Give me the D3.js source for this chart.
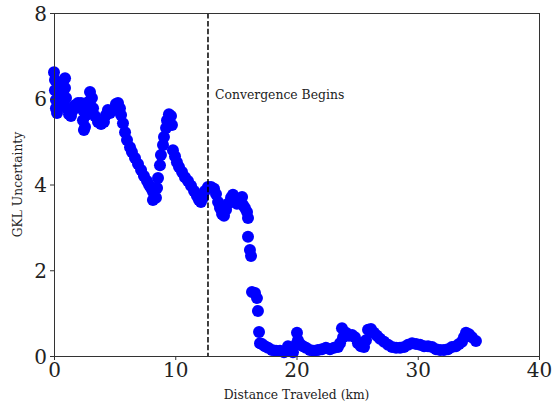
<!DOCTYPE html>
<html>
<head>
<meta charset="utf-8">
<script src="https://cdn.jsdelivr.net/npm/d3@7"></script>
<style>
  html, body { margin: 0; padding: 0; background: #fff; }
  svg { display: block; font-family: "DejaVu Serif", serif; }
</style>
</head>
<body>
<svg id="chart" width="556" height="408"></svg>
<script>
// Distance along the route (km) and GKL uncertainty at each sample
const distanceKm = [
  0.0, 0.08, 0.08, 0.16, 0.16, 0.25, 0.41, 0.58, 0.74, 0.91,
  0.91, 0.99, 1.07, 1.24, 1.4, 1.57, 1.73, 1.98, 2.23, 2.39,
  2.39, 2.47, 2.56, 2.64, 2.8, 2.97, 3.13, 3.22, 3.38, 3.63,
  3.88, 4.12, 4.29, 4.45, 4.62, 4.87, 5.11, 5.28, 5.44, 5.53,
  5.69, 5.86, 6.02, 6.27, 6.43, 6.68, 6.93, 7.18, 7.42, 7.67,
  7.84, 8.0, 8.16, 8.16, 8.41, 8.5, 8.58, 8.74, 8.82, 8.99,
  9.07, 9.24, 9.32, 9.48, 9.65, 9.73, 9.81, 9.98, 10.14, 10.31,
  10.56, 10.8, 11.05, 11.3, 11.55, 11.79, 11.96, 12.12, 12.29, 12.45,
  12.7, 12.95, 13.2, 13.36, 13.53, 13.69, 13.86, 14.02, 14.19, 14.35,
  14.6, 14.76, 14.93, 15.09, 15.34, 15.51, 15.59, 15.75, 15.92, 16.0,
  16.0, 16.16, 16.25, 16.33, 16.58, 16.74, 16.82, 16.91, 16.99, 17.15,
  17.4, 17.65, 17.98, 18.31, 18.64, 18.97, 19.3, 19.46, 19.71, 19.96,
  20.04, 20.12, 20.29, 20.54, 20.78, 21.11, 21.44, 21.77, 22.1, 22.43,
  22.76, 23.09, 23.42, 23.59, 23.75, 23.84, 24.08, 24.33, 24.58, 24.82,
  25.07, 25.32, 25.57, 25.73, 25.9, 26.14, 26.39, 26.64, 26.89, 27.22,
  27.55, 27.88, 28.21, 28.54, 28.87, 29.2, 29.53, 29.86, 30.19, 30.52,
  30.85, 31.18, 31.51, 31.84, 32.16, 32.49, 32.82, 33.15, 33.4, 33.65,
  33.81, 33.98, 34.23, 34.47, 34.8
];
const gklUncertainty = [
  6.62, 6.44, 6.2, 5.97, 5.78, 5.67, 5.85, 6.09, 6.32, 6.48,
  6.25, 6.02, 5.78, 5.64, 5.6, 5.74, 5.85, 5.9, 5.9, 5.74,
  5.5, 5.27, 5.34, 5.62, 5.92, 6.16, 6.02, 5.78, 5.6, 5.46,
  5.41, 5.46, 5.62, 5.74, 5.67, 5.74, 5.88, 5.9, 5.78, 5.62,
  5.43, 5.22, 5.04, 4.87, 4.76, 4.62, 4.48, 4.34, 4.2, 4.08,
  3.99, 3.92, 3.83, 3.64, 3.69, 3.92, 4.15, 4.45, 4.69, 4.92,
  5.11, 5.32, 5.5, 5.64, 5.6, 5.39, 4.8, 4.66, 4.52, 4.41,
  4.29, 4.17, 4.08, 3.97, 3.85, 3.73, 3.64, 3.59, 3.69, 3.85,
  3.94, 3.94, 3.9, 3.78, 3.59, 3.45, 3.31, 3.27, 3.41, 3.55,
  3.69, 3.76, 3.59, 3.55, 3.64, 3.71, 3.52, 3.45, 3.36, 3.22,
  2.78, 2.47, 2.33, 1.49, 1.47, 1.35, 1.05, 0.56, 0.3, 0.28,
  0.23, 0.19, 0.14, 0.12, 0.12, 0.09, 0.23, 0.14, 0.09, 0.26,
  0.54, 0.37, 0.28, 0.23, 0.19, 0.14, 0.12, 0.14, 0.16, 0.19,
  0.16, 0.19, 0.21, 0.3, 0.65, 0.44, 0.54, 0.47, 0.49, 0.44,
  0.3, 0.23, 0.21, 0.37, 0.61, 0.63, 0.54, 0.47, 0.4, 0.33,
  0.26, 0.21, 0.19, 0.19, 0.21, 0.26, 0.3, 0.28, 0.26, 0.23,
  0.23, 0.21, 0.16, 0.14, 0.14, 0.16, 0.21, 0.23, 0.28, 0.33,
  0.44, 0.54, 0.51, 0.44, 0.35
];
const xTicks = [0, 10, 20, 30, 40];
const yTicks = [0, 2, 4, 6, 8];
const convergenceKm = 12.7;

const svg = d3.select("#chart");
const margin = { left: 54, right: 17, top: 13, bottom: 52 };
const W = 556, H = 408;

const x = d3.scaleLinear().domain([0, 40]).range([margin.left, W - margin.right]);
const y = d3.scaleLinear().domain([0, 8]).range([H - margin.bottom, margin.top]);

// Scatter points
svg.append("g")
  .selectAll("circle")
  .data(distanceKm.map((d, i) => [d, gklUncertainty[i]]))
  .join("circle")
  .attr("cx", d => x(d[0]))
  .attr("cy", d => y(d[1]))
  .attr("r", 6)
  .attr("fill", "#0000ff");

// Marker for where convergence begins
svg.append("line")
  .attr("x1", x(convergenceKm)).attr("x2", x(convergenceKm))
  .attr("y1", y(8)).attr("y2", y(0))
  .attr("stroke", "#000")
  .attr("stroke-width", 1.5)
  .attr("stroke-dasharray", "5.5,2.4");

svg.append("text")
  .attr("x", x(convergenceKm) + 7)
  .attr("y", 99)
  .attr("font-size", 12.4)
  .attr("fill", "#222")
  .text("Convergence Begins");

// Axes
const xAxis = svg.append("g")
  .attr("transform", `translate(0,${y(0)})`)
  .call(d3.axisBottom(x).tickValues(xTicks).tickSize(4).tickPadding(3).tickFormat(d3.format("d")));
const yAxis = svg.append("g")
  .attr("transform", `translate(${x(0)},0)`)
  .call(d3.axisLeft(y).tickValues(yTicks).tickSize(4).tickPadding(3).tickFormat(d3.format("d")));

[xAxis, yAxis].forEach(g => {
  g.select(".domain").remove();
  g.selectAll(".tick line").attr("stroke", "#333");
  g.selectAll(".tick text")
    .attr("font-family", "DejaVu Serif, serif")
    .attr("font-size", 20)
    .attr("fill", "#222");
});
yAxis.selectAll(".tick text").attr("dy", "0.36em");

// Frame around the plot area
svg.append("rect")
  .attr("x", x(0) + 0.5).attr("y", y(8) + 0.5)
  .attr("width", x(40) - x(0)).attr("height", y(0) - y(8))
  .attr("fill", "none")
  .attr("stroke", "#333")
  .attr("stroke-width", 1);

// Axis titles
svg.append("text")
  .attr("x", (x(0) + x(40)) / 2)
  .attr("y", 399)
  .attr("text-anchor", "middle")
  .attr("font-size", 12.3)
  .attr("fill", "#222")
  .text("Distance Traveled (km)");

svg.append("text")
  .attr("transform", `translate(22,${(y(0) + y(8)) / 2}) rotate(-90)`)
  .attr("text-anchor", "middle")
  .attr("font-size", 12.3)
  .attr("fill", "#222")
  .text("GKL Uncertainty");
</script>
</body>
</html>
